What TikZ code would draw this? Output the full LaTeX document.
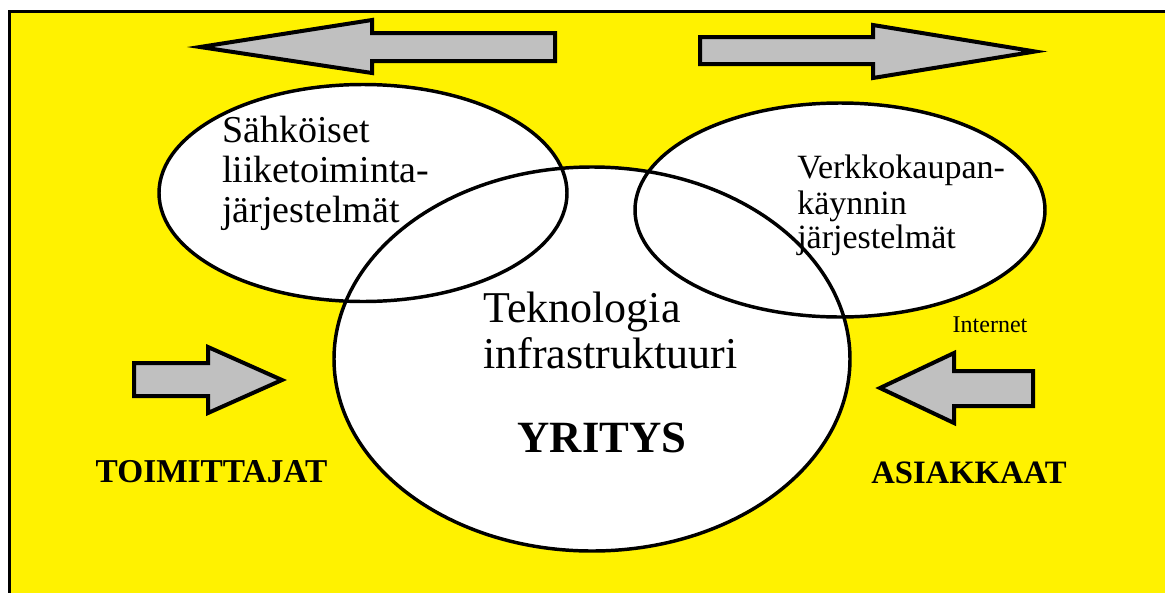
\documentclass[tikz,border=0pt]{standalone}
\usepackage{fontspec}
\setmainfont{Liberation Serif}
\definecolor{bgyellow}{RGB}{255,242,0}
\definecolor{arrowgray}{RGB}{192,192,192}
\begin{document}
\begin{tikzpicture}[x=0.75pt,y=-0.75pt,
  blockarrow/.style={fill=arrowgray,draw=black,line width=3pt,line join=miter,miter limit=10},
  bubble/.style={draw=black,line width=2.6pt},
  txt/.style={inner sep=0pt,text=black},
  leftlbl/.style={txt,anchor=base west,font=\fontsize{28.5}{30}\selectfont},
  rightlbl/.style={txt,anchor=base west,font=\fontsize{25.5}{28}\selectfont},
  corelbl/.style={txt,anchor=base west,font=\fontsize{33}{36}\selectfont},
  biglbl/.style={txt,anchor=base,font=\bfseries\fontsize{25}{28}\selectfont}]
\useasboundingbox (0,0) rectangle (1165,593);
% page and frame
\fill[white] (0,0) rectangle (1165,593);
\fill[bgyellow] (9.5,11.5) rectangle (1165,593);
\draw[line width=2.6pt] (9.5,593) -- (9.5,11.5) -- (1165,11.5);

% bubbles: fills first, then all outlines so that overlaps stay visible
\fill[white] (363,193) ellipse [x radius=204, y radius=108.5];
\fill[white] (840,210) ellipse [x radius=205, y radius=107];
\fill[white] (592,359) ellipse [x radius=258, y radius=192];
\draw[bubble] (363,193) ellipse [x radius=204, y radius=108.5];
\draw[bubble] (840,210) ellipse [x radius=205, y radius=107];
\draw[bubble] (592,359) ellipse [x radius=258, y radius=192];

% block arrows
\draw[blockarrow] (200,47) -- (372,20) -- (372,33) -- (555,33) -- (555,61) -- (372,61) -- (372,73) -- cycle;
\draw[blockarrow] (1035,51.5) -- (873,25) -- (873,37) -- (700,37) -- (700,64) -- (873,64) -- (873,78) -- cycle;
\draw[blockarrow] (282,380) -- (208,347) -- (208,363) -- (134,363) -- (134,396) -- (208,396) -- (208,413) -- cycle;
\draw[blockarrow] (880,388) -- (954,353) -- (954,371) -- (1033,371) -- (1033,406) -- (954,406) -- (954,423) -- cycle;

% labels
\node[leftlbl] (s1) at (222,142) {Sähköiset};
\node[leftlbl] (s2) at (222,182) {liiketoiminta-};
\node[leftlbl] (s3) at (222,222) {järjestelmät};
\node[rightlbl] (v1) at (797,178) {Verkkokaupan-};
\node[rightlbl] (v2) at (797,214) {käynnin};
\node[rightlbl] (v3) at (797,248) {järjestelmät};
\node[corelbl] (t1) at (483,322) {Teknologia};
\node[corelbl] (t2) at (483,368) {infrastruktuuri};
\node[txt,anchor=base,font=\bfseries\fontsize{33.5}{36}\selectfont] (yr) at (602,452) {YRITYS};
\node[biglbl] (to) at (211.5,482) {TOIMITTAJAT};
\node[biglbl,font=\bfseries\fontsize{24.5}{28}\selectfont] (as) at (969,483) {ASIAKKAAT};
\node[txt,anchor=base,font=\fontsize{18}{20}\selectfont] (in) at (990,332) {Internet};
\end{tikzpicture}
\end{document}
